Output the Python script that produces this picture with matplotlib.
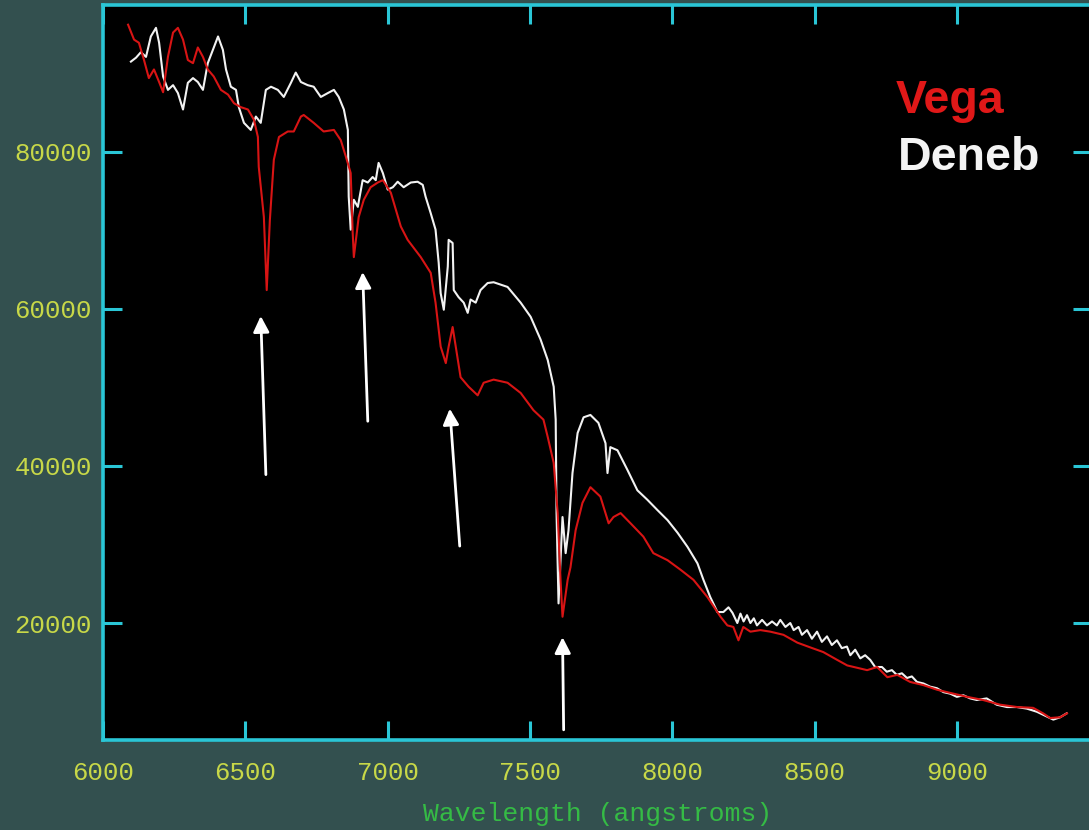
import matplotlib
matplotlib.use("Agg")
import matplotlib.pyplot as plt

plt.rcParams["font.family"] = ["Liberation Mono", "DejaVu Sans Mono"]

# Vega (red) spectrum, wavelength in angstroms vs counts
vega_wl = [6088, 6109, 6126, 6144, 6161, 6179, 6197, 6211, 6228, 6246, 6263, 6281, 6298,
           6316, 6333, 6351, 6368, 6389, 6414, 6439, 6460, 6484, 6509, 6530, 6544, 6547,
           6565, 6575, 6586, 6600, 6618, 6649, 6670, 6695, 6705, 6740, 6775, 6811, 6835,
           6853, 6870, 6877, 6881, 6898, 6916, 6940, 6965, 6983, 7011, 7046, 7070, 7116,
           7151, 7168, 7186, 7204, 7214, 7228, 7239, 7256, 7284, 7316, 7337, 7372, 7421,
           7467, 7512, 7547, 7562, 7583, 7597, 7607, 7614, 7632, 7642, 7660, 7684, 7712,
           7747, 7776, 7793, 7818, 7853, 7898, 7933, 7983, 8028, 8074, 8123, 8169, 8193,
           8214, 8232, 8249, 8274, 8309, 8344, 8390, 8439, 8484, 8530, 8579, 8614, 8649,
           8684, 8719, 8755, 8790, 8835, 8881, 8930, 8976, 9035, 9091, 9151, 9211, 9267,
           9302, 9327, 9362, 9386]
vega_flux = [96200, 94300, 93900, 91700, 89400, 90500, 88900, 87600, 92100, 95200, 95800,
             94300, 91700, 91300, 93300, 92100, 90500, 89600, 87900, 87300, 86200, 85700,
             85400, 84100, 81900, 78100, 71700, 62400, 71300, 79000, 81900, 82600, 82600,
             84500, 84700, 83700, 82600, 82800, 81500, 79400, 77300, 69700, 66600, 71700,
             73900, 75500, 76100, 76400, 74800, 70500, 68800, 66600, 64600, 60800, 55200,
             53100, 55200, 57700, 55200, 51300, 50100, 49000, 50600, 51000, 50600, 49300,
             47100, 45900, 43700, 40400, 34000, 25500, 20800, 25500, 27100, 31800, 35300,
             37300, 36100, 32700, 33500, 34000, 32700, 31000, 28900, 28000, 26800, 25500,
             23300, 20800, 19700, 19500, 17800, 19500, 18900, 19100, 18900, 18500, 17500,
             16900, 16300, 15300, 14600, 14300, 14000, 14400, 13100, 13400, 12500, 12100,
             11500, 11100, 10600, 10200, 9600, 9300, 9200, 8500, 7900, 8000, 8500]

# Deneb (white) spectrum
deneb_wl = [6098, 6116, 6133, 6151, 6168, 6186, 6197, 6211, 6228, 6246, 6263, 6281, 6298,
            6316, 6333, 6351, 6368, 6386, 6404, 6421, 6432, 6449, 6467, 6477, 6495, 6519,
            6537, 6554, 6572, 6590, 6614, 6635, 6660, 6677, 6695, 6719, 6740, 6765, 6790,
            6811, 6828, 6846, 6860, 6863, 6870, 6881, 6895, 6912, 6930, 6947, 6958, 6968,
            6983, 7000, 7018, 7035, 7056, 7081, 7105, 7123, 7133, 7151, 7168, 7179, 7186,
            7197, 7211, 7214, 7228, 7232, 7249, 7267, 7281, 7291, 7309, 7326, 7351, 7372,
            7421, 7467, 7502, 7537, 7562, 7583, 7590, 7593, 7600, 7614, 7625, 7635, 7649,
            7667, 7688, 7712, 7740, 7765, 7772, 7782, 7807, 7842, 7877, 7912, 7947, 7983,
            8018, 8053, 8088, 8109, 8133, 8158, 8179, 8197, 8211, 8228, 8239, 8250, 8262,
            8274, 8286, 8297, 8315, 8332, 8350, 8367, 8379, 8397, 8414, 8426, 8443, 8455,
            8473, 8490, 8508, 8525, 8543, 8560, 8578, 8595, 8613, 8625, 8642, 8660, 8677,
            8695, 8712, 8736, 8753, 8771, 8788, 8806, 8824, 8841, 8859, 8882, 8905, 8929,
            8952, 8976, 8999, 9022, 9046, 9069, 9104, 9139, 9175, 9210, 9245, 9280, 9315,
            9338, 9362, 9385]
deneb_flux = [91500, 92000, 92700, 92100, 94700, 95800, 93900, 89600, 87900, 88500, 87500,
              85400, 88800, 89400, 88900, 87900, 91300, 93000, 94700, 93000, 90500, 88300,
              87900, 85700, 83700, 82800, 84500, 83700, 87900, 88300, 87900, 87000, 88800,
              90100, 88900, 88500, 88300, 87000, 87500, 87900, 87000, 85400, 82800, 74300,
              70100, 73900, 73000, 76400, 76100, 76800, 76400, 78600, 77300, 75200, 75500,
              76200, 75500, 76100, 76200, 75800, 74300, 72200, 70100, 65900, 62000, 59900,
              65400, 68800, 68400, 62400, 61500, 60800, 59500, 61200, 60800, 62400, 63300,
              63400, 62800, 60800, 59000, 56100, 53500, 50100, 45900, 34000, 22500, 33500,
              28900, 31800, 39100, 44200, 46200, 46500, 45500, 42900, 39100, 42400, 42000,
              39500, 36900, 35700, 34400, 33100, 31500, 29700, 27600, 25500, 23300, 21400,
              21400, 22000, 21300, 20000, 21200, 20200, 21000, 20000, 20600, 19700, 20400,
              19700, 20200, 19700, 20400, 19500, 20000, 19100, 19500, 18500, 19100, 18000,
              18900, 17600, 18300, 17200, 17800, 16800, 17000, 15900, 16600, 15500, 15900,
              15300, 14400, 14400, 13800, 14000, 13400, 13600, 13000, 13200, 12500, 12300,
              11900, 11700, 11200, 11000, 10600, 10800, 10400, 10200, 10400, 9600, 9300,
              9300, 9100, 8700, 8100, 7700, 8000, 8500]

# annotation arrows: (tail wavelength, tail flux, head wavelength, head flux)
arrows = [(6572, 38900, 6554, 59100),
          (6930, 45700, 6912, 64700),
          (7253, 29800, 7218, 47300),
          (7618, 6400, 7614, 18200)]

xticks = [6000, 6500, 7000, 7500, 8000, 8500, 9000]
yticks = [20000, 40000, 60000, 80000]

bg = "#33504f"
cyan = "#2ac6d6"
yellow = "#c8d848"

fig = plt.figure(figsize=(10.89, 8.30), dpi=100, facecolor=bg)
ax = fig.add_axes([0.0946, 0.1084, 0.9082, 0.8855], facecolor="black")

ax.plot(deneb_wl, deneb_flux, color="#f2f2f2", lw=1.5)
ax.plot(vega_wl, vega_flux, color="#d81414", lw=1.5)

for x0, y0, x1, y1 in arrows:
    ax.annotate("", xy=(x1, y1), xytext=(x0, y0),
                arrowprops=dict(arrowstyle="-|>", color="white", lw=2,
                                mutation_scale=24, shrinkA=0, shrinkB=0))

ax.set_xlim(6000, 9474)
ax.set_ylim(5100, 98700)
ax.set_xticks(xticks)
ax.set_yticks(yticks)
ax.tick_params(direction="in", length=14, width=2.2, color=cyan,
               top=True, right=True, labelsize=18.5, labelcolor=yellow)
ax.tick_params(axis="x", pad=15)
ax.tick_params(axis="y", pad=8)
for s in ax.spines.values():
    s.set_color(cyan)
    s.set_linewidth(2.6)

ax.set_xlabel("Wavelength (angstroms)", color="#35bb45", fontsize=19, labelpad=12)

fig.text(896 / 1089, 1 - 113 / 830, "Vega", color="#e01818", fontsize=33.5,
         fontweight="bold", family="Liberation Sans", va="baseline")
fig.text(898 / 1089, 1 - 170 / 830, "Deneb", color="#f4f4f4", fontsize=33.5,
         fontweight="bold", family="Liberation Sans", va="baseline")

fig.savefig("out.png", dpi=100, facecolor=bg)
